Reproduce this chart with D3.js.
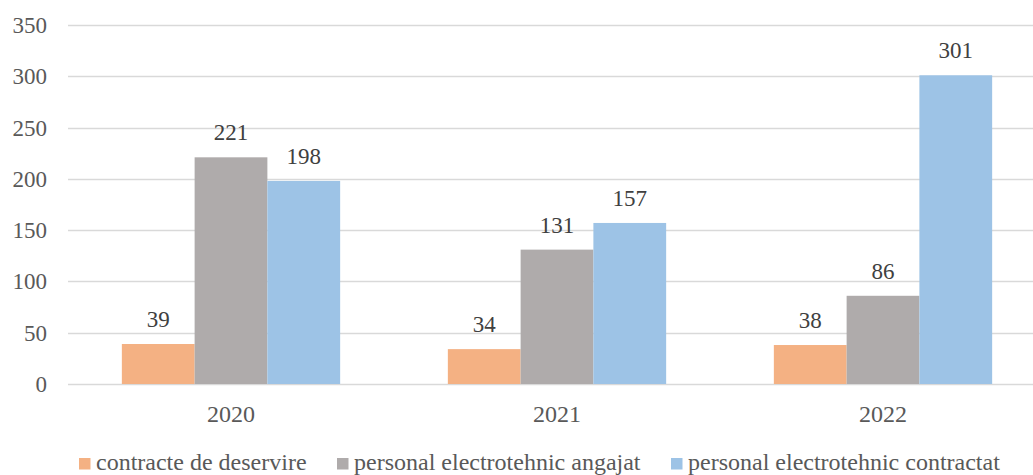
<!DOCTYPE html>
<html>
<head>
<meta charset="utf-8">
<script src="https://cdn.jsdelivr.net/npm/d3@7"></script>
<style>
  body { margin: 0; background: #fff; }
  svg text { font-family: "Liberation Serif", "Times New Roman", serif; }
</style>
</head>
<body>
<div id="chart"></div>
<script>
var years = ["2020", "2021", "2022"];
var seriesNames = ["contracte de deservire", "personal electrotehnic angajat", "personal electrotehnic contractat"];
var contracte = [39, 34, 38];
var angajat = [221, 131, 86];
var contractat = [198, 157, 301];
var yTicks = [0, 50, 100, 150, 200, 250, 300, 350];
var colors = ["#F4B183", "#AFABAB", "#9DC3E6"];

var width = 1033, height = 475;
var margin = {top: 25, left: 68, bottom: 91};

var svg = d3.select("#chart").append("svg")
  .attr("width", width)
  .attr("height", height);

var series = [contracte, angajat, contractat];

var x = d3.scaleBand()
  .domain(years)
  .range([margin.left, 1046]);

var x1 = d3.scaleBand()
  .domain(d3.range(3))
  .range([0, x.bandwidth()])
  .paddingOuter(0.74);

var y = d3.scaleLinear()
  .domain([0, 350])
  .range([height - margin.bottom, margin.top]);

// grid
svg.append("g")
  .selectAll("line")
  .data(yTicks)
  .enter()
  .append("line")
  .attr("x1", margin.left)
  .attr("x2", 1046)
  .attr("y1", function(d) { return Math.round(y(d)) + 0.5; })
  .attr("y2", function(d) { return Math.round(y(d)) + 0.5; })
  .attr("stroke", "#d9d9d9")
  .attr("stroke-width", 1.3);

// y labels
svg.append("g")
  .selectAll("text")
  .data(yTicks)
  .enter()
  .append("text")
  .attr("x", 47)
  .attr("y", function(d) { return y(d); })
  .attr("dy", "0.35em")
  .attr("text-anchor", "end")
  .attr("fill", "#595959")
  .style("font-size", "23px")
  .text(function(d) { return d; });

// bars
var groups = svg.selectAll(".grp")
  .data(years)
  .enter()
  .append("g")
  .attr("class", "grp")
  .attr("transform", function(d) { return "translate(" + x(d) + ",0)"; });

groups.selectAll("rect")
  .data(function(d, i) { return series.map(function(s, k) { return {k: k, v: s[i]}; }); })
  .enter()
  .append("rect")
  .attr("x", function(d) { return x1(d.k); })
  .attr("width", x1.bandwidth())
  .attr("y", function(d) { return y(d.v); })
  .attr("height", function(d) { return y(0) - y(d.v); })
  .attr("fill", function(d) { return colors[d.k]; });

groups.selectAll(".lbl")
  .data(function(d, i) { return series.map(function(s, k) { return {k: k, v: s[i]}; }); })
  .enter()
  .append("text")
  .attr("class", "lbl")
  .attr("x", function(d) { return x1(d.k) + x1.bandwidth() / 2; })
  .attr("y", function(d) { return y(d.v) - 17; })
  .attr("text-anchor", "middle")
  .attr("fill", "#404040")
  .style("font-size", "23px")
  .text(function(d) { return d.v; });

// x labels
svg.append("g")
  .selectAll("text")
  .data(years)
  .enter()
  .append("text")
  .attr("x", function(d) { return x(d) + x.bandwidth() / 2; })
  .attr("y", 422)
  .attr("text-anchor", "middle")
  .attr("fill", "#595959")
  .style("font-size", "24px")
  .text(function(d) { return d; });

// legend
var legendX = [79, 337, 671];
var legend = svg.selectAll(".leg")
  .data(seriesNames)
  .enter()
  .append("g")
  .attr("class", "leg")
  .attr("transform", function(d, i) { return "translate(" + legendX[i] + ",458)"; });

legend.append("rect")
  .attr("width", 11.5)
  .attr("height", 11.5)
  .attr("fill", function(d, i) { return colors[i]; });

legend.append("text")
  .attr("x", 17)
  .attr("y", 12)
  .attr("fill", "#595959")
  .style("font-size", "24px")
  .text(function(d) { return d; });
</script>
</body>
</html>
